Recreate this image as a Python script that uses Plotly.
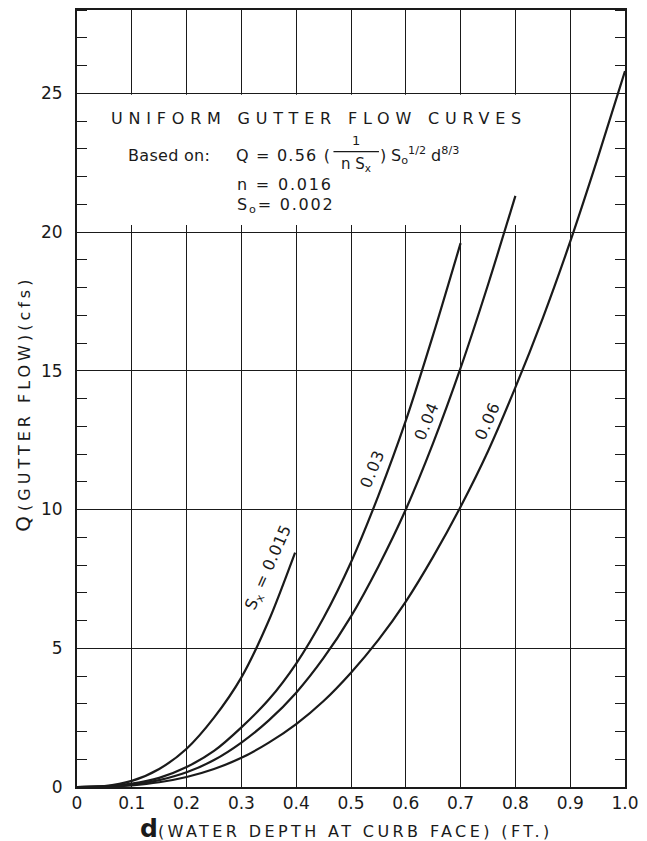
import plotly.graph_objects as go

# ---- data ----
d_015 = [0, 0.05, 0.1, 0.15, 0.2, 0.25, 0.3, 0.35, 0.398]
q_015 = [0, 0.03, 0.22, 0.65, 1.38, 2.5, 3.95, 6.0, 8.45]

d_03 = [0, 0.05, 0.1, 0.15, 0.2, 0.25, 0.3, 0.35, 0.4, 0.45, 0.5, 0.55, 0.6, 0.65, 0.7]
q_03 = [0, 0.02, 0.12, 0.33, 0.72, 1.3, 2.15, 3.15, 4.45, 6.1, 8.1, 10.5, 13.2, 16.3, 19.6]

d_04 = [0, 0.05, 0.1, 0.15, 0.2, 0.25, 0.3, 0.35, 0.4, 0.45, 0.5, 0.55, 0.6, 0.65, 0.7, 0.75, 0.8]
q_04 = [0, 0.01, 0.08, 0.25, 0.53, 0.97, 1.6, 2.4, 3.4, 4.65, 6.15, 7.95, 10.0, 12.4, 15.1, 18.1, 21.3]

d_06 = [0, 0.05, 0.1, 0.15, 0.2, 0.25, 0.3, 0.35, 0.4, 0.45, 0.5, 0.55, 0.6, 0.65, 0.7,
        0.75, 0.8, 0.85, 0.9, 0.95, 1.0]
q_06 = [0, 0.01, 0.06, 0.17, 0.36, 0.65, 1.05, 1.6, 2.27, 3.1, 4.12, 5.3, 6.68, 8.3, 10.1,
        12.1, 14.4, 16.9, 19.65, 22.65, 25.8]

x_tickvals = [0, 0.1, 0.2, 0.3, 0.4, 0.5, 0.6, 0.7, 0.8, 0.9, 1.0]
x_ticktext = ["0", "0.1", "0.2", "0.3", "0.4", "0.5", "0.6", "0.7", "0.8", "0.9", "1.0"]
y_tickvals = [0, 5, 10, 15, 20, 25]
y_ticktext = ["0", "5", "10", "15", "20", "25"]

INK = "#1a1a1a"
FONT = "DejaVu Sans"

fig = go.Figure()
for dx, qy in [(d_015, q_015), (d_03, q_03), (d_04, q_04), (d_06, q_06)]:
    fig.add_trace(go.Scatter(x=dx, y=qy, mode="lines",
                             line=dict(color=INK, width=2.2, shape="spline", smoothing=0.8),
                             showlegend=False, hoverinfo="skip"))

# white panel behind the title block
fig.add_shape(type="rect", xref="x", yref="y", x0=0.004, x1=0.85, y0=20.25, y1=24.95,
              fillcolor="white", line=dict(width=0), layer="between")
# fraction bar
fig.add_shape(type="line", xref="x", yref="y", x0=0.468, x1=0.551, y0=22.9, y1=22.9,
              line=dict(color=INK, width=1.3), layer="above")

def ann(text, x, y, size=16, xanchor="center", yanchor="middle", angle=0, xref="x", yref="y"):
    fig.add_annotation(text=text, x=x, y=y, xref=xref, yref=yref, showarrow=False,
                       xanchor=xanchor, yanchor=yanchor, textangle=angle,
                       font=dict(family=FONT, size=size, color=INK))

def ls(s, px):
    return "<span style='letter-spacing:%spx'>%s</span>" % (px, s)

ann(ls("UNIFORM GUTTER FLOW CURVES", 5.8), 0.442, 24.08, size=16)
ann(ls("Based on:", 0.3), 0.090, 22.75, xanchor="left")
ann(ls("Q = 0.56 (", 1.2), 0.467, 22.75, xanchor="right")
ann("1", 0.510, 23.3, size=13)
ann("n S<sub>x</sub>", 0.510, 22.45, size=15)
ann(")", 0.559, 22.75)
ann("S<sub>o</sub><sup>1/2</sup> d<sup>8/3</sup>", 0.569, 22.75, xanchor="left")
ann(ls("n = 0.016", 1.8), 0.288, 21.71, xanchor="left")
ann(ls("S<sub>o</sub>= 0.002", 1.8), 0.288, 20.95, xanchor="left")

# curve labels
ann(ls("S<sub>x</sub> = 0.015", 0.5), 0.350, 7.92, angle=-66)
ann(ls("0.03", 1), 0.540, 11.46, angle=-68)
ann(ls("0.04", 1), 0.639, 13.19, angle=-68)
ann(ls("0.06", 1), 0.750, 13.19, angle=-66)

# axis titles
ann("<span style='font-size:20px'>Q</span> " + ls("(GUTTER FLOW)(cfs)", 4.0),
    -0.099, 13.8, size=16, angle=-90, xref="paper")
ann("<b><span style='font-size:25px'>d</span></b>" + ls("(WATER DEPTH AT CURB FACE) (FT.)", 3.4),
    0.492, -0.053, size=16, yref="paper")

fig.update_xaxes(range=[0, 1.0], tickvals=x_tickvals, ticktext=x_ticktext,
                 showgrid=True, gridcolor=INK, gridwidth=1.3,
                 showline=True, linecolor=INK, linewidth=1.8, mirror=True,
                 ticks="", zeroline=False,
                 tickfont=dict(family=FONT, size=17, color=INK))
fig.update_yaxes(range=[0, 28], tickvals=y_tickvals, ticktext=y_ticktext,
                 showgrid=True, gridcolor=INK, gridwidth=1.3,
                 showline=True, linecolor=INK, linewidth=1.8, mirror="ticks",
                 ticks="", zeroline=False, ticklabelstandoff=9,
                 minor=dict(dtick=1, ticks="inside", ticklen=10, tickcolor=INK,
                            tickwidth=1.3, showgrid=False),
                 tickfont=dict(family=FONT, size=17, color=INK))

fig.update_layout(width=647, height=841, margin=dict(l=77, r=15, t=8, b=54),
                  paper_bgcolor="white", plot_bgcolor="white", showlegend=False)

fig.write_html("out.html")
